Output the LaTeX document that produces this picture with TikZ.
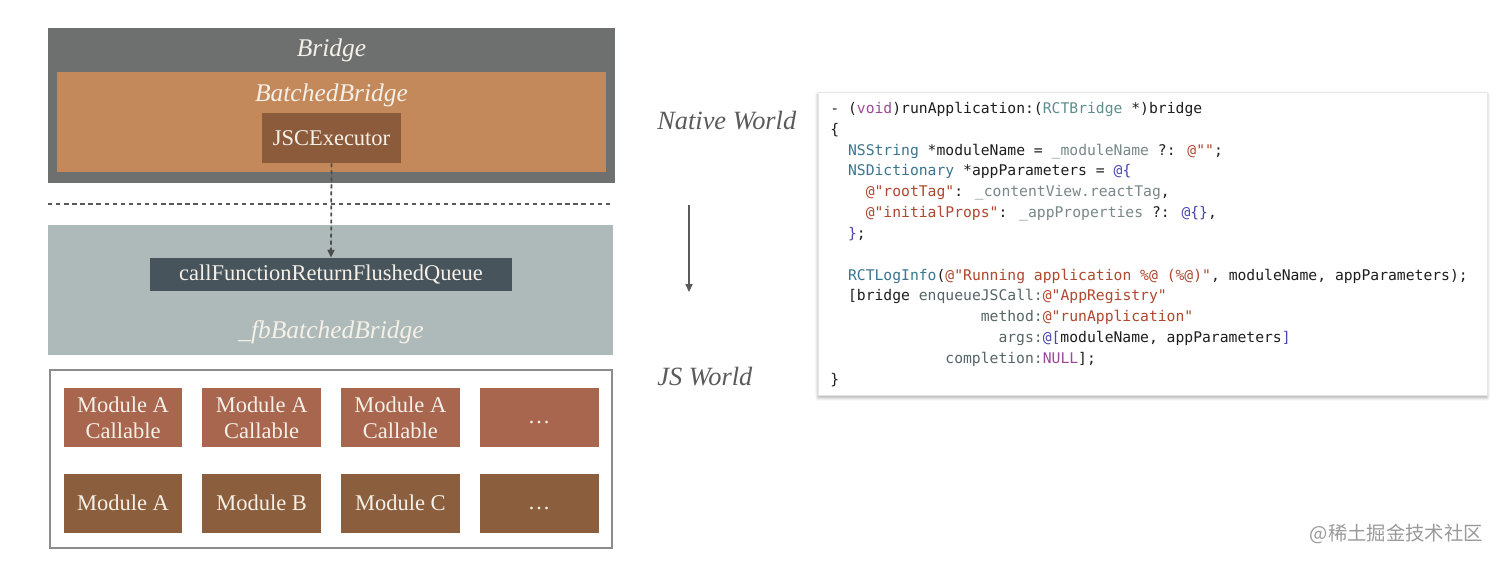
\documentclass[tikz,border=0pt]{standalone}
\usepackage{fontspec}
\setmainfont{Liberation Serif}
\newfontfamily\codefont{DejaVu Sans Mono}
\newfontfamily\cjkfont{Noto Sans CJK SC}
\usetikzlibrary{arrows.meta,positioning,shadows.blur}

\definecolor{bridgegray}{HTML}{6E7070}
\definecolor{batchorange}{HTML}{C3895B}
\definecolor{jscbrown}{HTML}{8C5B3B}
\definecolor{fbgray}{HTML}{ADBAB9}
\definecolor{queueslate}{HTML}{47545B}
\definecolor{callred}{HTML}{A8664F}
\definecolor{modbrown}{HTML}{8B5E3D}
\definecolor{framegray}{HTML}{8C8C8C}
\definecolor{paper}{HTML}{F5F0E8}
\definecolor{worldgray}{HTML}{5A5A5A}
\definecolor{codeblack}{HTML}{1E1E1E}
\definecolor{ckey}{HTML}{9B4A98}
\definecolor{crct}{HTML}{5F8E8E}
\definecolor{ctype}{HTML}{3A7590}
\definecolor{civar}{HTML}{788888}
\definecolor{cstr}{HTML}{B0472F}
\definecolor{cblue}{HTML}{4747B0}
\definecolor{csel}{HTML}{566666}

\begin{document}
\begin{tikzpicture}[
    x=0.02cm, y=-0.02cm, >=Stealth,
    node distance=0.38cm and 0.38cm,
    panel/.style={rectangle, inner sep=0pt},
    boxtitle/.style={anchor=base, inner sep=0pt, text=paper,
                     font=\fontsize{14.5}{17}\selectfont\itshape},
    block/.style={rectangle, inner sep=0pt, align=center, text=paper,
                  font=\fontsize{12.8}{14.6}\selectfont},
    callable/.style={block, fill=callred, minimum width=2.38cm, minimum height=1.18cm},
    module/.style={block, fill=modbrown, minimum width=2.38cm, minimum height=1.18cm},
    more/.style={text height=0.68em, text depth=0pt},
    world/.style={anchor=base west, inner sep=0pt, text=worldgray,
                  font=\fontsize{15}{17}\selectfont\itshape},
    codebox/.style={rectangle, fill=white, draw=black!10, inner sep=0pt,
                    blur shadow={shadow xshift=0pt, shadow yshift=-1.5pt,
                                 shadow blur steps=6, shadow opacity=35}},
    codeln/.style={anchor=base west, inner sep=0pt, text=codeblack,
                   font=\codefont\fontsize{8.37}{10}\selectfont},
    sepline/.style={draw=black!65, line width=1.2pt, dash pattern=on 2.5pt off 2.1pt},
    callarr/.style={-{Triangle[length=4.5pt,width=4pt]}, draw=black!70, fill=black!70,
                    line width=1pt, dash pattern=on 2.2pt off 1.8pt},
    flowarr/.style={-{Triangle[length=4.5pt,width=4pt]}, draw=worldgray, line width=0.9pt},
    watermark/.style={anchor=east, inner sep=0pt, text=black!40,
                      font=\cjkfont\fontsize{11}{13}\selectfont}
  ]
    \useasboundingbox (0,0) rectangle (1500,562);

    %--- Bridge (native side) ---
    \node[panel, fill=bridgegray, minimum width=11.34cm, minimum height=3.1cm] (bridge) at (331.5,105.5) {};
    \node[boxtitle] (bridgeT) at (331.5,56.7) {Bridge};
    \node[panel, fill=batchorange, minimum width=10.98cm, minimum height=2.0cm] (batched) at (331.5,122) {};
    \node[boxtitle] (batchedT) at (331.5,101.7) {BatchedBridge};
    \node[block, fill=jscbrown, minimum width=2.78cm, minimum height=1.0cm] (jsc) at (331.5,138) {JSCExecutor};

    %--- Separator ---
    \coordinate (sepL) at (48,204);
    \coordinate (sepR) at (613,204);
    \draw[sepline] (sepL) -- (sepR);

    %--- _fbBatchedBridge (JS side) ---
    \node[panel, fill=fbgray, minimum width=11.3cm, minimum height=2.6cm] (fb) at (330.5,290) {};
    \node[block, fill=queueslate, minimum width=7.24cm, minimum height=0.66cm] (callq) at (331,274.5) {callFunctionReturnFlushedQueue};
    \node[boxtitle] (fbT) at (331,338) {\_fbBatchedBridge};
    \draw[callarr] (jsc.south) -- (callq.north);

    %--- Modules ---
    \node[panel, draw=framegray, line width=1.1pt, minimum width=11.24cm, minimum height=3.56cm] (modules) at (331,459) {};
    \node[callable]                  (ca1) at (123,417.5) {Module A\\Callable};
    \node[callable, right=of ca1]    (ca2) {Module A\\Callable};
    \node[callable, right=of ca2]    (ca3) {Module A\\Callable};
    \node[callable, more, right=of ca3] (ca4) {…};
    \node[module, below=0.52cm of ca1] (mA) {Module A};
    \node[module, right=of mA]       (mB) {Module B};
    \node[module, right=of mB]       (mC) {Module C};
    \node[module, more, right=of mC] (mX) {…};

    %--- Native World / JS World ---
    \node[world] (native) at (657,129.3) {Native World};
    \node[world] (jsw)    at (657,385)   {JS World};
    \coordinate (flowTop) at (689,205);
    \coordinate (flowBot) at (689,292);
    \draw[flowarr] (flowTop) -- (flowBot);

    %--- Code listing ---
    \node[codebox, minimum width=13.38cm, minimum height=6.06cm] (code) at (1152.5,243.5) {};
    \node[codeln] (c0)  at (830,113.3)    {- (\textcolor{ckey}{void})runApplication:(\textcolor{crct}{RCTBridge} *)bridge};
    \node[codeln] (c1)  at (830,134.15)   {\{};
    \node[codeln] (c2)  at (847.7,155.0)  {\textcolor{ctype}{NSString} *moduleName = \textcolor{civar}{\_moduleName} ?: \textcolor{cstr}{@""};};
    \node[codeln] (c3)  at (847.7,175.85) {\textcolor{ctype}{NSDictionary} *appParameters = \textcolor{cblue}{@\{}};
    \node[codeln] (c4)  at (865.4,196.7)  {\textcolor{cstr}{@"rootTag"}: \textcolor{civar}{\_contentView.reactTag},};
    \node[codeln] (c5)  at (865.4,217.55) {\textcolor{cstr}{@"initialProps"}: \textcolor{civar}{\_appProperties} ?: \textcolor{cblue}{@\{\}},};
    \node[codeln] (c6)  at (847.7,238.4)  {\textcolor{cblue}{\}};};
    \node[codeln] (c8)  at (847.7,280.1)  {\textcolor{ctype}{RCTLogInfo}(\textcolor{cstr}{@"Running application \%@ (\%@)"}, moduleName, appParameters);};
    \node[codeln] (c9)  at (847.7,300.95) {[bridge \textcolor{csel}{enqueueJSCall:}\textcolor{cstr}{@"AppRegistry"}};
    \node[codeln] (c10) at (980.45,321.8) {\textcolor{csel}{method:}\textcolor{cstr}{@"runApplication"}};
    \node[codeln] (c11) at (998.15,342.65) {\textcolor{csel}{args:}\textcolor{cblue}{@[}moduleName, appParameters\textcolor{cblue}{]}};
    \node[codeln] (c12) at (945.05,363.5) {\textcolor{csel}{completion:}\textcolor{ckey}{NULL}];};
    \node[codeln] (c13) at (830,384.35)   {\}};

    %--- Watermark ---
    \node[watermark] (wm) at (1483,534) {@稀土掘金技术社区};
\end{tikzpicture}
\end{document}
